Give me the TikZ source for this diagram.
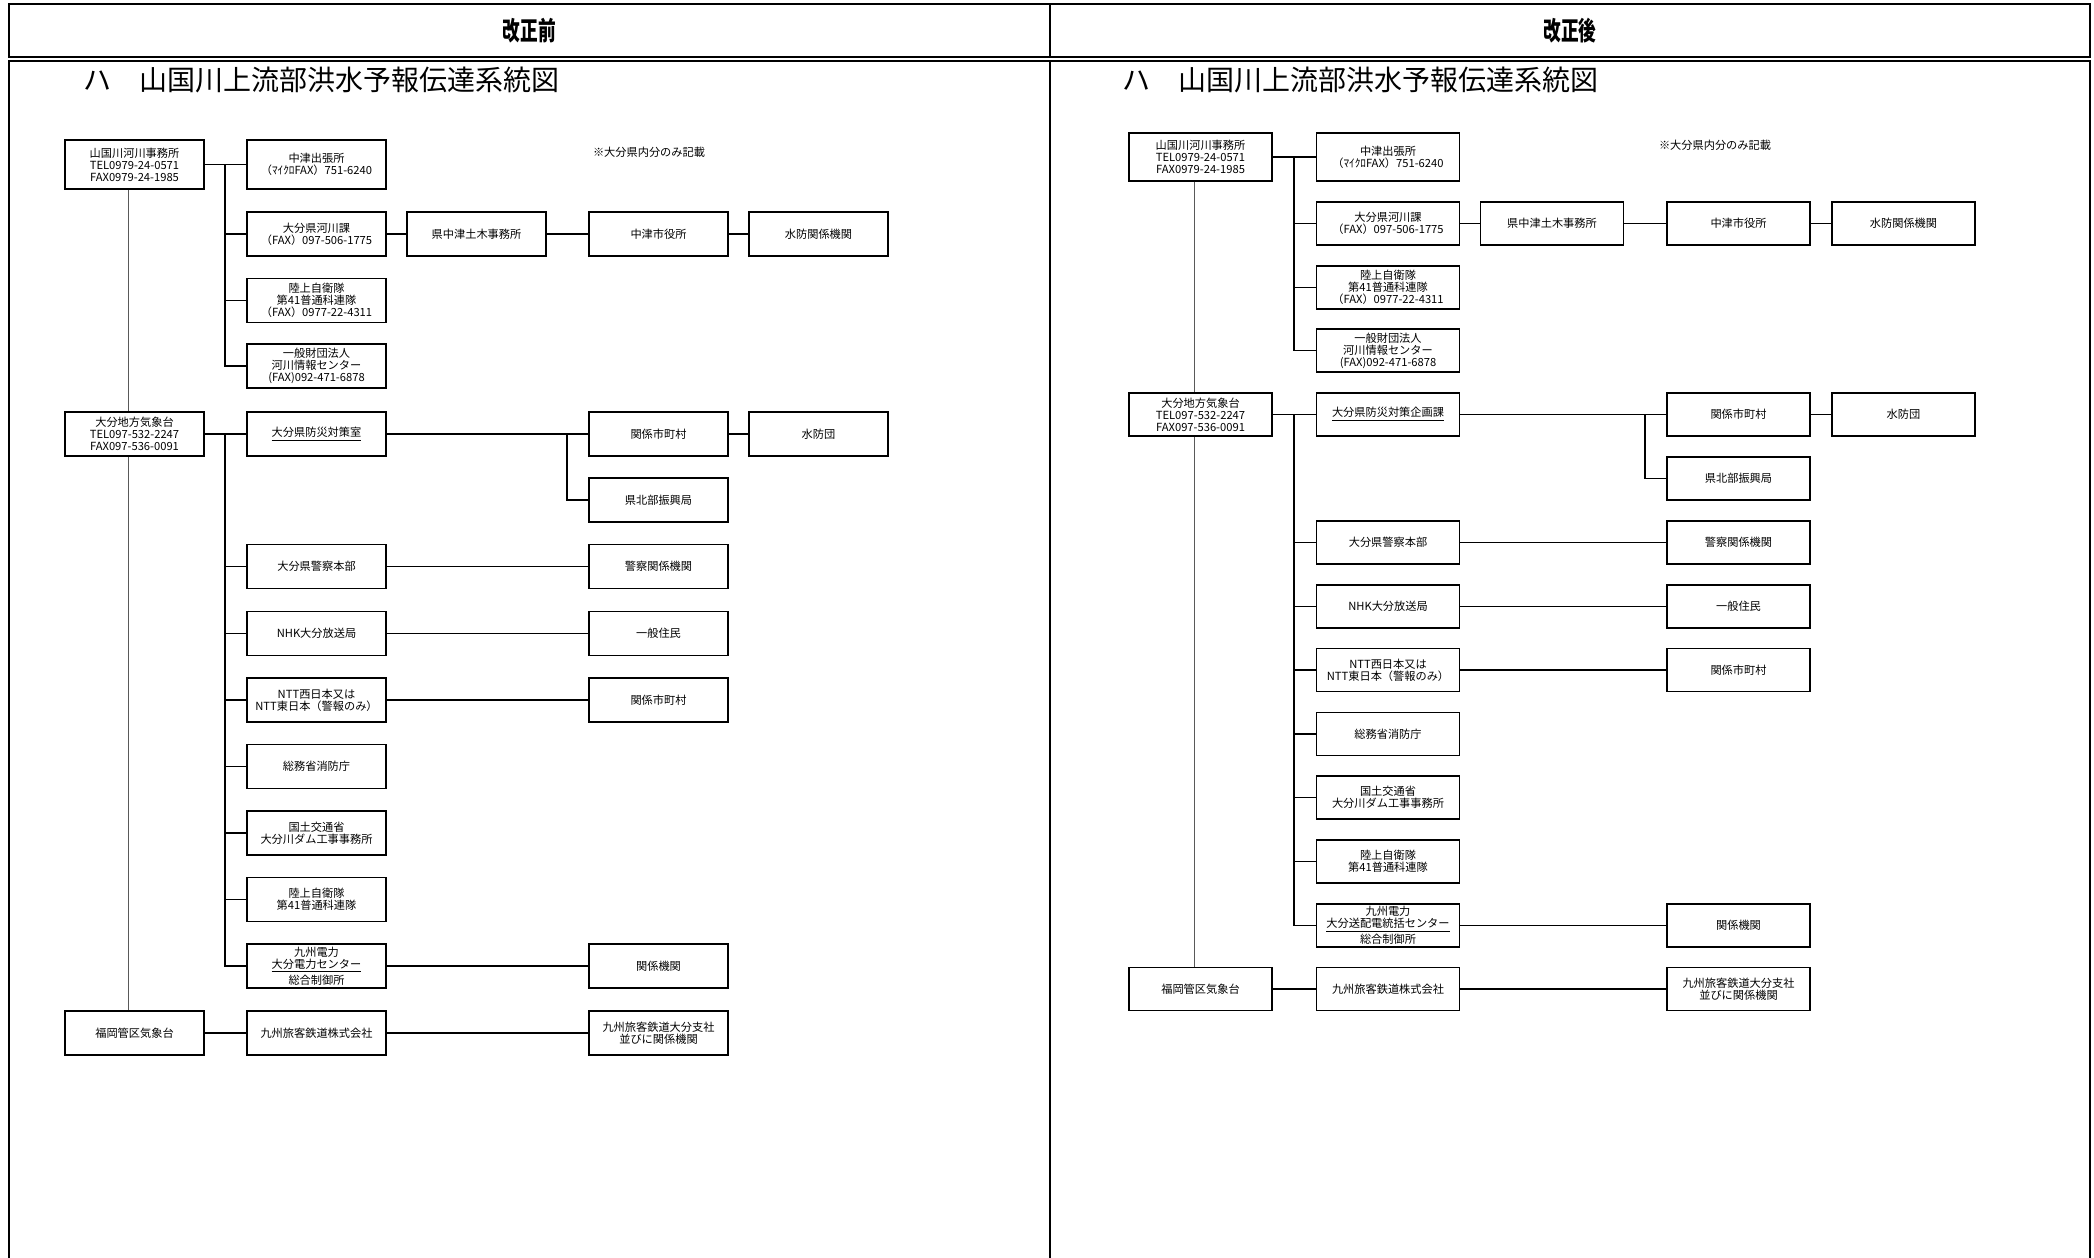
\documentclass[tikz,border=0pt]{standalone}
\usepackage{fontspec}
\setmainfont{Noto Sans CJK JP}
\usetikzlibrary{calc}
\tikzset{
 frame/.style={line width=1.4pt},
 boxL/.style={draw, line width=0.85pt, fill=white, minimum width=69.5pt, minimum height=22pt, inner sep=0pt, align=center, font=\fontsize{5.6pt}{6pt}\selectfont},
 boxR/.style={boxL, minimum width=71.5pt, minimum height=21.5pt},
 conn/.style={line width=0.6pt},
 bus/.style={line width=0.9pt},
 trunk/.style={line width=0.5pt, black!65},
 note/.style={font=\fontsize{5.6pt}{6pt}\selectfont, inner sep=0pt},
 hdr/.style={font=\fontsize{13pt}{13pt}\selectfont\bfseries, inner sep=0pt},
 ttl/.style={anchor=west, font=\fontsize{14pt}{14pt}\selectfont, inner sep=0pt},
}
\begin{document}
\begin{tikzpicture}[x=0.5pt,y=-0.5pt]
\useasboundingbox (0,0) rectangle (2094,1258);
% frames
\draw[frame] (9,4) rectangle (2090,57);
\draw[frame] (1050,4) -- (1050,57);
\draw[frame] (9,1258) -- (9,61) -- (2090,61) -- (2090,1258);
\draw[frame] (1050,61) -- (1050,1258);
\node[hdr] (hdrL) at (529.5,31) {\scalebox{0.68}[1]{改正前}};
\node[hdr] (hdrR) at (1570,31) {\scalebox{0.68}[1]{改正後}};
\node[ttl] (ttlL) at (83,80) {ハ　山国川上流部洪水予報伝達系統図};
\node[ttl] (ttlR) at (1122,80) {ハ　山国川上流部洪水予報伝達系統図};
\node[note] (noteL) at (649,152) {※大分県内分のみ記載};
\node[note] (noteR) at (1715,145) {※大分県内分のみ記載};

% ---------------- left panel ----------------
\node[boxL, minimum height=24.5pt] (Lyama) at (134.5,164.5) {山国川河川事務所\\TEL0979-24-0571\\FAX0979-24-1985};
\node[boxL, minimum height=24.5pt] (Lnak) at (316.5,164.5) {中津出張所\\（ﾏｲｸﾛFAX）751-6240};
\node[boxL] (Lkasen) at (316.5,234) {大分県河川課\\（FAX）097-506-1775};
\node[boxL] (Ldotoku) at (476.5,234) {県中津土木事務所};
\node[boxL] (Lshiyaku) at (658.5,234) {中津市役所};
\node[boxL] (Lsuibo) at (818.5,234) {水防関係機関};
\node[boxL] (Lrikujo) at (316.5,300.5) {陸上自衛隊\\第41普通科連隊\\（FAX）0977-22-4311};
\node[boxL] (Lippan) at (316.5,366) {一般財団法人\\河川情報センター\\(FAX)092-471-6878};
\node[boxL] (Loita) at (134.5,434) {大分地方気象台\\TEL097-532-2247\\FAX097-536-0091};
\node[boxL] (Lbosai) at (316.5,434) {\underline{大分県防災対策室}};
\node[boxL] (Lkankei1) at (658.5,434) {関係市町村};
\node[boxL] (Lsuibodan) at (818.5,434) {水防団};
\node[boxL] (Lhokubu) at (658.5,500) {県北部振興局};
\node[boxL] (Lkeisatsu) at (316.5,566.5) {大分県警察本部};
\node[boxL] (Lkeikan) at (658.5,566.5) {警察関係機関};
\node[boxL] (Lnhk) at (316.5,633.5) {NHK大分放送局};
\node[boxL] (Ljumin) at (658.5,633.5) {一般住民};
\node[boxL] (Lntt) at (316.5,700) {NTT西日本又は\\NTT東日本（警報のみ）};
\node[boxL] (Lkankei2) at (658.5,700) {関係市町村};
\node[boxL] (Lshobo) at (316.5,766.5) {総務省消防庁};
\node[boxL] (Lkokudo) at (316.5,833) {国土交通省\\大分川ダム工事事務所};
\node[boxL] (Lriku2) at (316.5,899.5) {陸上自衛隊\\第41普通科連隊};
\node[boxL] (Lkyuden) at (316.5,966) {九州電力\\\underline{大分電力センター}\\総合制御所};
\node[boxL] (Lkikan) at (658.5,966) {関係機関};
\node[boxL] (Lfuku) at (134.5,1033) {福岡管区気象台};
\node[boxL] (Ljr) at (316.5,1033) {九州旅客鉄道株式会社};
\node[boxL] (Ljroita) at (658.5,1033) {九州旅客鉄道大分支社\\並びに関係機関};

\draw[trunk] ($(Lyama.south)+(-6,0)$) -- ($(Loita.north)+(-6,0)$);
\draw[trunk] ($(Loita.south)+(-6,0)$) -- ($(Lfuku.north)+(-6,0)$);
\draw[bus] (Lyama.east) -- (Lnak.west);
\coordinate (LbusT) at (225,164.5);
\foreach \n in {Lkasen,Lrikujo,Lippan} \draw[bus] (LbusT) |- (\n.west);
\draw[conn] (Lkasen.east) -- (Ldotoku.west);
\draw[conn] (Ldotoku.east) -- (Lshiyaku.west);
\draw[conn] (Lshiyaku.east) -- (Lsuibo.west);
\draw[bus] (Loita.east) -- (Lbosai.west);
\coordinate (LbusM) at (225,434);
\foreach \n in {Lkeisatsu,Lnhk,Lntt,Lshobo,Lkokudo,Lriku2,Lkyuden} \draw[bus] (LbusM) |- (\n.west);
\draw[conn] (Lbosai.east) -- (Lkankei1.west);
\coordinate (Lbr) at (567,434);
\draw[bus] (Lbr) |- (Lhokubu.west);
\draw[conn] (Lkankei1.east) -- (Lsuibodan.west);
\draw[conn] (Lkeisatsu.east) -- (Lkeikan.west);
\draw[conn] (Lnhk.east) -- (Ljumin.west);
\draw[bus] (Lntt.east) -- (Lkankei2.west);
\draw[conn] (Lkyuden.east) -- (Lkikan.west);
\draw[bus] (Lfuku.east) -- (Ljr.west);
\draw[bus] (Ljr.east) -- (Ljroita.west);

% ---------------- right panel ----------------
\node[boxR, minimum height=24pt] (Ryama) at (1200.5,157) {山国川河川事務所\\TEL0979-24-0571\\FAX0979-24-1985};
\node[boxR, minimum height=24pt] (Rnak) at (1388,157) {中津出張所\\（ﾏｲｸﾛFAX）751-6240};
\node[boxR] (Rkasen) at (1388,223.5) {大分県河川課\\（FAX）097-506-1775};
\node[boxR] (Rdotoku) at (1552,223.5) {県中津土木事務所};
\node[boxR] (Rshiyaku) at (1738.5,223.5) {中津市役所};
\node[boxR] (Rsuibo) at (1903.5,223.5) {水防関係機関};
\node[boxR] (Rrikujo) at (1388,287.5) {陸上自衛隊\\第41普通科連隊\\（FAX）0977-22-4311};
\node[boxR] (Rippan) at (1388,350.5) {一般財団法人\\河川情報センター\\(FAX)092-471-6878};
\node[boxR] (Roita) at (1200.5,414.5) {大分地方気象台\\TEL097-532-2247\\FAX097-536-0091};
\node[boxR] (Rbosai) at (1388,414.5) {\underline{大分県防災対策企画課}};
\node[boxR] (Rkankei1) at (1738.5,414.5) {関係市町村};
\node[boxR] (Rsuibodan) at (1903.5,414.5) {水防団};
\node[boxR] (Rhokubu) at (1738.5,478.5) {県北部振興局};
\node[boxR] (Rkeisatsu) at (1388,542.5) {大分県警察本部};
\node[boxR] (Rkeikan) at (1738.5,542.5) {警察関係機関};
\node[boxR] (Rnhk) at (1388,606.5) {NHK大分放送局};
\node[boxR] (Rjumin) at (1738.5,606.5) {一般住民};
\node[boxR] (Rntt) at (1388,670) {NTT西日本又は\\NTT東日本（警報のみ）};
\node[boxR] (Rkankei2) at (1738.5,670) {関係市町村};
\node[boxR] (Rshobo) at (1388,734) {総務省消防庁};
\node[boxR] (Rkokudo) at (1388,797.5) {国土交通省\\大分川ダム工事事務所};
\node[boxR] (Rriku2) at (1388,861.5) {陸上自衛隊\\第41普通科連隊};
\node[boxR] (Rkyuden) at (1388,925.5) {九州電力\\\underline{大分送配電統括センター}\\総合制御所};
\node[boxR] (Rkikan) at (1738.5,925.5) {関係機関};
\node[boxR] (Rfuku) at (1200.5,989) {福岡管区気象台};
\node[boxR] (Rjr) at (1388,989) {九州旅客鉄道株式会社};
\node[boxR] (Rjroita) at (1738.5,989) {九州旅客鉄道大分支社\\並びに関係機関};

\draw[trunk] ($(Ryama.south)+(-6,0)$) -- ($(Roita.north)+(-6,0)$);
\draw[trunk] ($(Roita.south)+(-6,0)$) -- ($(Rfuku.north)+(-6,0)$);
\draw[bus] (Ryama.east) -- (Rnak.west);
\coordinate (RbusT) at (1294,157);
\foreach \n in {Rkasen,Rrikujo,Rippan} \draw[bus] (RbusT) |- (\n.west);
\draw[conn] (Rkasen.east) -- (Rdotoku.west);
\draw[conn] (Rdotoku.east) -- (Rshiyaku.west);
\draw[conn] (Rshiyaku.east) -- (Rsuibo.west);
\draw[bus] (Roita.east) -- (Rbosai.west);
\coordinate (RbusM) at (1294,414.5);
\foreach \n in {Rkeisatsu,Rnhk,Rntt,Rshobo,Rkokudo,Rriku2,Rkyuden} \draw[bus] (RbusM) |- (\n.west);
\draw[conn] (Rbosai.east) -- (Rkankei1.west);
\coordinate (Rbr) at (1645,414.5);
\draw[bus] (Rbr) |- (Rhokubu.west);
\draw[conn] (Rkankei1.east) -- (Rsuibodan.west);
\draw[conn] (Rkeisatsu.east) -- (Rkeikan.west);
\draw[conn] (Rnhk.east) -- (Rjumin.west);
\draw[bus] (Rntt.east) -- (Rkankei2.west);
\draw[conn] (Rkyuden.east) -- (Rkikan.west);
\draw[bus] (Rfuku.east) -- (Rjr.west);
\draw[bus] (Rjr.east) -- (Rjroita.west);
\end{tikzpicture}
\end{document}
